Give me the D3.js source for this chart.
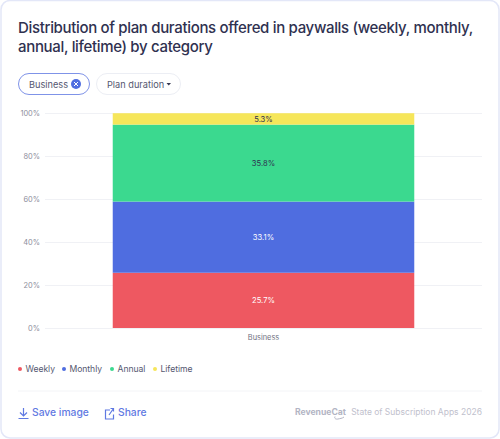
<!DOCTYPE html>
<html>
<head>
<meta charset="utf-8">
<script src="https://cdn.jsdelivr.net/npm/d3@7/dist/d3.min.js"></script>
<style>
html,body{margin:0;padding:0;background:#fff;}
svg{display:block;font-family:Inter,"Open Sans",sans-serif;}
</style>
</head>
<body>
<svg id="chart" width="500" height="439"></svg>
<script>
// Plan duration shares for the single selected category
const categories = ["Business"];
const seriesNames = ["Weekly", "Monthly", "Annual", "Lifetime"];
const seriesValues = [25.7, 33.1, 35.8, 5.3];
const seriesColors = ["#ee5861", "#4f6de0", "#3bd98f", "#f6e65a"];
const labelColors = ["#ffffff", "#ffffff", "#2f3150", "#2f3150"];
const yTicks = [0, 20, 40, 60, 80, 100];
const titleLines = ["Distribution of plan durations offered in paywalls (weekly, monthly,", "annual, lifetime) by category"];

const svg = d3.select("#chart");

// Card
svg.append("rect").attr("x", 1).attr("y", 0.5).attr("width", 498).attr("height", 437.5).attr("rx", 9)
  .attr("fill", "#fff").attr("stroke", "#e3e7f8").attr("stroke-width", 1.5);

// Title
svg.append("g").selectAll("text").data(titleLines).join("text")
  .attr("x", 18).attr("y", (d, i) => 32.5 + i * 19.5)
  .attr("font-size", 15).attr("letter-spacing", -0.33).attr("font-weight", 500).attr("fill", "#2f3150").text(d => d);

// Filter pills
svg.append("rect").attr("x", 18.5).attr("y", 73.5).attr("width", 71).attr("height", 21).attr("rx", 10.5)
  .attr("fill", "#fff").attr("stroke", "#7f93e8").attr("stroke-width", 1);
svg.append("text").attr("x", 29).attr("y", 87.5).attr("font-size", 9.2).attr("fill", "#55576f").text("Business");
svg.append("circle").attr("cx", 76).attr("cy", 84).attr("r", 5).attr("fill", "#4f6de0");
svg.append("path").attr("d", "M74 82L78 86M78 82L74 86").attr("stroke", "#fff").attr("stroke-width", 1).attr("fill", "none");
svg.append("rect").attr("x", 96.5).attr("y", 73.5).attr("width", 84).attr("height", 21).attr("rx", 10.5)
  .attr("fill", "#fff").attr("stroke", "#eceef4").attr("stroke-width", 1);
svg.append("text").attr("x", 107).attr("y", 87.5).attr("font-size", 9.2).attr("fill", "#55576f").text("Plan duration");
svg.append("path").attr("d", "M166.5 83L171 83L168.75 85.5Z").attr("fill", "#33354f");

// Scales
const y = d3.scaleLinear().domain([0, 100]).range([328, 113]);
const x = d3.scaleBand().domain(categories).range([45, 482]).paddingInner(0.31).paddingOuter(0.155);

// Horizontal gridlines and percentage ticks
const yAxis = d3.axisLeft(y).tickValues(yTicks).tickSize(-437).tickPadding(5).tickFormat(d => d + "%");
const yG = svg.append("g").attr("transform", "translate(45,0)").call(yAxis);
yG.select(".domain").remove();
yG.selectAll("line").attr("stroke", "#f0f1f5");
yG.selectAll("text").attr("font-size", 7.4).attr("fill", "#8c8e9c").attr("font-family", "Inter,sans-serif").attr("x", -5);

// Stacked bar
let cum = 0;
const segments = seriesValues.map((v, i) => {
  const s = { v, i, y0: cum, y1: cum + v };
  cum += v;
  return s;
});
svg.append("g").selectAll("rect").data(segments).join("rect")
  .attr("x", x("Business")).attr("width", x.bandwidth())
  .attr("y", d => y(d.y1)).attr("height", d => y(d.y0) - y(d.y1))
  .attr("fill", d => seriesColors[d.i]);
svg.append("g").selectAll("text").data(segments).join("text")
  .attr("x", x("Business") + x.bandwidth() / 2)
  .attr("y", d => y((d.y0 + d.y1) / 2) + 3)
  .attr("text-anchor", "middle").attr("font-size", 7.6)
  .attr("fill", d => labelColors[d.i]).text(d => d.v.toFixed(1) + "%");

// Category label
svg.append("text").attr("x", x("Business") + x.bandwidth() / 2).attr("y", 340)
  .attr("text-anchor", "middle").attr("font-size", 7.4).attr("fill", "#6f7182").text(categories[0]);

// Legend
const legendX = [20, 64, 112, 155];
const legend = svg.append("g").selectAll("g").data(seriesNames).join("g")
  .attr("transform", (d, i) => `translate(${legendX[i]},369)`);
legend.append("circle").attr("r", 2).attr("fill", (d, i) => seriesColors[i]);
legend.append("text").attr("x", 5.5).attr("y", 3.3).attr("font-size", 8.6).attr("letter-spacing", -0.05).attr("fill", "#55576f").text(d => d);

// Footer
svg.append("line").attr("x1", 18).attr("x2", 482).attr("y1", 391).attr("y2", 391).attr("stroke", "#f3f4f7");
const link = "#5f79e2";
svg.append("path").attr("d", "M23.5 408V416M20 412.5L23.5 416L27 412.5M18.5 418.5H28.5")
  .attr("fill", "none").attr("stroke", link).attr("stroke-width", 1.2);
svg.append("text").attr("x", 32).attr("y", 416).attr("font-size", 10.3).attr("font-weight", 500).attr("fill", link).text("Save image");
svg.append("path").attr("d", "M110 410H105.5V419H113.5V414.5M109 415L113.5 408.5M110.5 408.5H113.5V411.5")
  .attr("fill", "none").attr("stroke", link).attr("stroke-width", 1.2);
svg.append("text").attr("x", 118).attr("y", 416).attr("font-size", 10.3).attr("font-weight", 500).attr("fill", link).text("Share");
svg.append("text").attr("x", 295).attr("y", 415).attr("font-size", 8.6).attr("font-weight", 700).attr("fill", "#b3b5c4").text("RevenueCat");
// Curled tail under the wordmark's cat
svg.append("path").attr("d", "M335 416.5C334 418.5 336 419.5 338 419C340 418.5 342 418.5 344 417")
  .attr("fill", "none").attr("stroke", "#b3b5c4").attr("stroke-width", 1);
svg.append("text").attr("x", 482).attr("y", 415).attr("text-anchor", "end").attr("font-size", 8.5).attr("fill", "#bfc1cd").text("State of Subscription Apps 2026");
</script>
</body>
</html>
